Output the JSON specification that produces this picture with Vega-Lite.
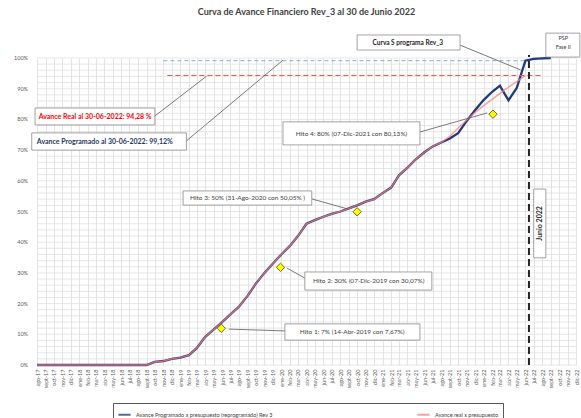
{
 "$schema": "https://vega.github.io/schema/vega-lite/v6.json",
 "width": 539,
 "height": 307,
 "autosize": {"type": "none"},
 "padding": {"left": 37, "top": 58, "right": 5, "bottom": 53},
 "background": "white",
 "title": {"text": "Curva de Avance Financiero Rev_3 al 30 de Junio 2022", "fontSize": 9, "font": "Lato", "fontWeight": "bold", "color": "#404040", "offset": 16, "anchor": "middle", "frame": "group"},
 "data": {"values": [
   {"d":"2017-08-01","p":0,"r":0},{"d":"2017-09-01","p":0,"r":0},{"d":"2017-10-01","p":0,"r":0},{"d":"2017-11-01","p":0,"r":0},{"d":"2017-12-01","p":0,"r":0},
   {"d":"2018-01-01","p":0,"r":0},{"d":"2018-02-01","p":0,"r":0},{"d":"2018-03-01","p":0,"r":0},{"d":"2018-04-01","p":0,"r":0},{"d":"2018-05-01","p":0,"r":0},
   {"d":"2018-06-01","p":0,"r":0},{"d":"2018-07-01","p":0,"r":0},{"d":"2018-08-01","p":0,"r":0},{"d":"2018-09-01","p":0,"r":0},{"d":"2018-10-01","p":1.0,"r":1.0},
   {"d":"2018-11-01","p":1.3,"r":1.3},{"d":"2018-12-01","p":2.0,"r":2.0},{"d":"2019-01-01","p":2.4,"r":2.4},{"d":"2019-02-01","p":3.2,"r":3.2},{"d":"2019-03-01","p":5.5,"r":5.5},
   {"d":"2019-04-01","p":9.2,"r":9.2},{"d":"2019-05-01","p":11.5,"r":11.5},{"d":"2019-06-01","p":14.0,"r":14.0},{"d":"2019-07-01","p":16.5,"r":16.5},{"d":"2019-08-01","p":19.0,"r":19.0},
   {"d":"2019-09-01","p":22.5,"r":22.5},{"d":"2019-10-01","p":26.5,"r":26.5},{"d":"2019-11-01","p":30.0,"r":30.0},{"d":"2019-12-01","p":33.0,"r":33.0},{"d":"2020-01-01","p":36.0,"r":36.0},
   {"d":"2020-02-01","p":38.8,"r":38.8},{"d":"2020-03-01","p":42.0,"r":42.0},{"d":"2020-04-01","p":46.0,"r":46.0},{"d":"2020-05-01","p":47.2,"r":47.2},{"d":"2020-06-01","p":48.3,"r":48.3},
   {"d":"2020-07-01","p":49.2,"r":49.2},{"d":"2020-08-01","p":50.0,"r":50.0},{"d":"2020-09-01","p":51.0,"r":51.0},{"d":"2020-10-01","p":52.0,"r":52.0},{"d":"2020-11-01","p":53.2,"r":53.2},
   {"d":"2020-12-01","p":54.0,"r":54.0},{"d":"2021-01-01","p":56.0,"r":56.0},{"d":"2021-02-01","p":57.8,"r":57.8},{"d":"2021-03-01","p":61.8,"r":61.8},{"d":"2021-04-01","p":64.3,"r":64.3},
   {"d":"2021-05-01","p":67.0,"r":67.0},{"d":"2021-06-01","p":69.3,"r":69.3},{"d":"2021-07-01","p":71.2,"r":71.2},{"d":"2021-08-01","p":72.5,"r":72.5},{"d":"2021-09-01","p":73.8,"r":74.5},
   {"d":"2021-10-01","p":75.5,"r":77.2},{"d":"2021-11-01","p":79.5,"r":79.8},{"d":"2021-12-01","p":83.0,"r":82.2},{"d":"2022-01-01","p":86.3,"r":84.5},{"d":"2022-02-01","p":89.0,"r":86.5},
   {"d":"2022-03-01","p":91.0,"r":88.5},{"d":"2022-04-01","p":86.2,"r":90.5},{"d":"2022-05-01","p":90.3,"r":92.3},{"d":"2022-06-01","p":99.12,"r":94.28},{"d":"2022-07-01","p":99.7,"r":null},
   {"d":"2022-08-01","p":99.9,"r":null},{"d":"2022-09-01","p":100.0,"r":null}
  ], "format": {"parse": {"d": "date:'%Y-%m-%d'"}}},
 "layer": [
  {
   "data": {"values": [{"g":0},{"g":2},{"g":4},{"g":6},{"g":8},{"g":10},{"g":12},{"g":14},{"g":16},{"g":18},{"g":20},{"g":22},{"g":24},{"g":26},{"g":28},{"g":30},{"g":32},{"g":34},{"g":36},{"g":38},{"g":40},{"g":42},{"g":44},{"g":46},{"g":48},{"g":50},{"g":52},{"g":54},{"g":56},{"g":58},{"g":60},{"g":62},{"g":64},{"g":66},{"g":68},{"g":70},{"g":72},{"g":74},{"g":76},{"g":78},{"g":80},{"g":82},{"g":84},{"g":86},{"g":88},{"g":90},{"g":92},{"g":94},{"g":96},{"g":98},{"g":100}]},
   "mark": {"type": "rule", "stroke": "#dcdcdc", "strokeWidth": 0.7},
   "encoding": {
    "y": {"field": "g", "type": "quantitative", "title": null,
     "scale": {"domain": [0, 100], "nice": false},
     "axis": {"title": null, "labels": false, "grid": false, "ticks": false, "domain": false}}
   }
  },
  {
   "data": {"values": [{"yd": "2017-08-01", "yv": 0, "yt": "0%"}, {"yd": "2017-08-01", "yv": 10, "yt": "10%"}, {"yd": "2017-08-01", "yv": 20, "yt": "20%"}, {"yd": "2017-08-01", "yv": 30, "yt": "30%"}, {"yd": "2017-08-01", "yv": 40, "yt": "40%"}, {"yd": "2017-08-01", "yv": 50, "yt": "50%"}, {"yd": "2017-08-01", "yv": 60, "yt": "60%"}, {"yd": "2017-08-01", "yv": 70, "yt": "70%"}, {"yd": "2017-08-01", "yv": 80, "yt": "80%"}, {"yd": "2017-08-01", "yv": 90, "yt": "90%"}, {"yd": "2017-08-01", "yv": 100, "yt": "100%"}], "format": {"parse": {"yd": "date:'%Y-%m-%d'"}}},
   "mark": {"type": "text", "fontSize": 5.5, "font": "Lato", "color": "#595959", "align": "right", "baseline": "middle", "dx": -9},
   "encoding": {"x": {"field": "yd", "type": "temporal", "title": null}, "y": {"field": "yv", "type": "quantitative", "title": null}, "text": {"field": "yt"}}
  },
  {
   "mark": {"type": "line", "strokeWidth": 2.3},
   "encoding": {
    "x": {"field": "d", "type": "temporal", "title": null,
     "scale": {"domain": [{"year": 2017, "month": 8, "date": 1}, {"year": 2022, "month": 12, "date": 1}], "nice": false},
     "axis": {"title": null, "tickCount": {"interval": "month", "step": 1}, "labelExpr": "(month(datum.value)==0?'ene':month(datum.value)==1?'feb':month(datum.value)==2?'mar':month(datum.value)==3?'abr':month(datum.value)==4?'may':month(datum.value)==5?'jun':month(datum.value)==6?'jul':month(datum.value)==7?'ago':month(datum.value)==8?'sept':month(datum.value)==9?'oct':month(datum.value)==10?'nov':'dic') + '-' + timeFormat(datum.value, '%y')", "labelAngle": 270, "labelFontSize": 5.5, "labelColor": "#595959", "labelOverlap": false, "labelFlush": false, "ticks": false, "domain": false, "gridColor": "#d9d9d9", "gridWidth": 0.7, "labelPadding": 4}},
    "y": {"field": "p", "type": "quantitative", "title": null},
    "color": {"datum": "Avance Programado x presupuesto (reprogramado) Rev 3",
     "scale": {"domain": ["Avance Programado x presupuesto (reprogramado) Rev 3", "Avance real x presupuesto"], "range": ["#1f3a78", "#ff7f80"]},
     "legend": {"title": null, "orient": "none", "legendX": 76, "legendY": 345, "direction": "horizontal", "columnPadding": 140, "labelFontSize": 5.5, "labelColor": "#404040", "symbolType": "stroke", "symbolSize": 150, "symbolStrokeWidth": 2, "strokeColor": "#595959", "padding": 4, "labelLimit": 300}}
   }
  },
  {
   "mark": {"type": "line", "strokeWidth": 1.5, "opacity": 0.75},
   "encoding": {
    "x": {"field": "d", "type": "temporal", "title": null},
    "y": {"field": "r", "type": "quantitative", "title": null},
    "color": {"datum": "Avance real x presupuesto"}
   }
  },
  {
   "data": {"values": [{"a": "2018-11-01", "b": "2022-06-01", "v": 99.12}], "format": {"parse": {"a": "date:'%Y-%m-%d'", "b": "date:'%Y-%m-%d'"}}},
   "mark": {"type": "rule", "stroke": "#7fb0e0", "strokeWidth": 1, "strokeDash": [4, 3]},
   "encoding": {"x": {"field": "a", "type": "temporal", "title": null}, "x2": {"field": "b"}, "y": {"field": "v", "type": "quantitative", "title": null}}
  },
  {
   "data": {"values": [{"a": "2018-11-15", "b": "2022-08-01", "w": 94.28}], "format": {"parse": {"a": "date:'%Y-%m-%d'", "b": "date:'%Y-%m-%d'"}}},
   "mark": {"type": "rule", "stroke": "#ff5050", "strokeWidth": 1.1, "strokeDash": [5, 3]},
   "encoding": {"x": {"field": "a", "type": "temporal", "title": null}, "x2": {"field": "b"}, "y": {"field": "w", "type": "quantitative", "title": null}}
  },
  {
   "data": {"values": [{"a": "2022-06-14", "ya": 0, "yb": 101}], "format": {"parse": {"a": "date:'%Y-%m-%d'"}}},
   "mark": {"type": "rule", "stroke": "#262626", "strokeWidth": 2, "strokeDash": [7, 4]},
   "encoding": {"x": {"field": "a", "type": "temporal", "title": null}, "y": {"field": "ya", "type": "quantitative", "title": null}, "y2": {"field": "yb"}}
  },
  {
   "data": {"values": [
     {"a":"2018-10-01","ya":81.1,"b":"2019-04-06","yb":94.1},
     {"a":"2019-01-23","ya":73.0,"b":"2020-01-07","yb":99.3},
     {"a":"2021-10-08","ya":104.2,"b":"2022-05-15","yb":96.1},
     {"a":"2020-04-20","ya":54.1,"b":"2020-08-29","yb":50.8},
     {"a":"2020-03-26","ya":28.3,"b":"2020-01-21","yb":31.6},
     {"a":"2020-01-14","ya":11.1,"b":"2019-06-25","yb":11.7},
     {"a":"2021-05-16","ya":75.9,"b":"2022-01-14","yb":82.1}
    ], "format": {"parse": {"a": "date:'%Y-%m-%d'", "b": "date:'%Y-%m-%d'"}}},
   "mark": {"type": "rule", "stroke": "#595959", "strokeWidth": 0.8},
   "encoding": {"x": {"field": "a", "type": "temporal", "title": null}, "x2": {"field": "b"}, "y": {"field": "ya", "type": "quantitative", "title": null}, "y2": {"field": "yb"}}
  },
  {
   "data": {"values": [
     {"a":"2017-07-25","b":"2018-10-01","ya":78.2,"yb":83.7},
     {"a":"2017-07-13","b":"2019-01-23","ya":70.0,"yb":75.6},
     {"a":"2020-10-01","b":"2021-10-08","ya":102.6,"yb":107.5},
     {"a":"2022-08-14","b":"2022-12-15","ya":100.3,"yb":108.1},
     {"a":"2022-07-01","b":"2022-08-14","ya":34.9,"yb":57.3},
     {"a":"2019-01-11","b":"2020-04-20","ya":52.1,"yb":56.7},
     {"a":"2020-03-26","b":"2021-06-28","ya":24.4,"yb":30.3},
     {"a":"2020-01-14","b":"2021-05-16","ya":8.1,"yb":13.4},
     {"a":"2020-01-07","b":"2021-05-16","ya":71.7,"yb":79.2}
    ], "format": {"parse": {"a": "date:'%Y-%m-%d'", "b": "date:'%Y-%m-%d'"}}},
   "mark": {"type": "rect", "fill": "white", "stroke": "#8c8c8c", "strokeWidth": 0.8},
   "encoding": {"x": {"field": "a", "type": "temporal", "title": null}, "x2": {"field": "b"}, "y": {"field": "ya", "type": "quantitative", "title": null}, "y2": {"field": "yb"}}
  },
  {
   "data": {"values": [
     {"d": "2019-09-01", "v": 54.4, "t": "Hito 3: 50% (31-Ago-2020 con 50,05% )"},
     {"d": "2020-11-12", "v": 27.4, "t": "Hito 2: 30% (07-Dic-2019 con 30,07%)"},
     {"d": "2020-09-13", "v": 10.7, "t": "Hito 1: 7% (14-Abr-2019 con 7,67%)"},
     {"d": "2020-09-11", "v": 75.4, "t": "Hito 4: 80% (07-Dic-2021 con 80,13%)"}
    ], "format": {"parse": {"d": "date:'%Y-%m-%d'"}}},
   "mark": {"type": "text", "fontSize": 6.5, "font": "Lato", "color": "#404040", "align": "center", "baseline": "middle"},
   "encoding": {"x": {"field": "d", "type": "temporal", "title": null}, "y": {"field": "v", "type": "quantitative", "title": null}, "text": {"field": "t"}}
  },
  {
   "data": {"values": [{"d": "2018-02-27", "v": 80.9, "t": "Avance Real al 30-06-2022: 94,28 %"}], "format": {"parse": {"d": "date:'%Y-%m-%d'"}}},
   "mark": {"type": "text", "fontSize": 7, "font": "Lato", "fontWeight": "bold", "color": "#ff0000", "align": "center", "baseline": "middle"},
   "encoding": {"x": {"field": "d", "type": "temporal", "title": null}, "y": {"field": "v", "type": "quantitative", "title": null}, "text": {"field": "t"}}
  },
  {
   "data": {"values": [{"d": "2018-04-03", "v": 72.8, "t": "Avance Programado al 30-06-2022: 99,12%"}], "format": {"parse": {"d": "date:'%Y-%m-%d'"}}},
   "mark": {"type": "text", "fontSize": 7, "font": "Lato", "fontWeight": "bold", "color": "#1f3864", "align": "center", "baseline": "middle"},
   "encoding": {"x": {"field": "d", "type": "temporal", "title": null}, "y": {"field": "v", "type": "quantitative", "title": null}, "text": {"field": "t"}}
  },
  {
   "data": {"values": [{"d": "2021-04-02", "v": 105.0, "t": "Curva S programa Rev_3"}], "format": {"parse": {"d": "date:'%Y-%m-%d'"}}},
   "mark": {"type": "text", "fontSize": 6.5, "font": "Lato", "fontWeight": "bold", "color": "#262626", "align": "center", "baseline": "middle"},
   "encoding": {"x": {"field": "d", "type": "temporal", "title": null}, "y": {"field": "v", "type": "quantitative", "title": null}, "text": {"field": "t"}}
  },
  {
   "data": {"values": [{"d": "2022-10-16", "v": 106.6, "t": "PSP"}, {"d": "2022-10-16", "v": 103.6, "t": "Fase II"}], "format": {"parse": {"d": "date:'%Y-%m-%d'"}}},
   "mark": {"type": "text", "fontSize": 5.5, "font": "Lato", "color": "#404040", "align": "center", "baseline": "middle"},
   "encoding": {"x": {"field": "d", "type": "temporal", "title": null}, "y": {"field": "v", "type": "quantitative", "title": null}, "text": {"field": "t"}}
  },
  {
   "data": {"values": [{"d": "2022-07-23", "v": 46.1, "t": "Junio 2022"}], "format": {"parse": {"d": "date:'%Y-%m-%d'"}}},
   "mark": {"type": "text", "fontSize": 7, "font": "Lato", "fontWeight": "bold", "color": "#262626", "align": "center", "baseline": "middle", "angle": 270},
   "encoding": {"x": {"field": "d", "type": "temporal", "title": null}, "y": {"field": "v", "type": "quantitative", "title": null}, "text": {"field": "t"}}
  },
  {
   "data": {"values": [
     {"d": "2019-05-29", "v": 11.95},
     {"d": "2019-12-29", "v": 31.8},
     {"d": "2020-10-01", "v": 49.9},
     {"d": "2022-02-04", "v": 81.7}
    ], "format": {"parse": {"d": "date:'%Y-%m-%d'"}}},
   "mark": {"type": "point", "shape": "diamond", "filled": true, "fill": "#ffff00", "stroke": "#6b6b2f", "strokeWidth": 1, "size": 70, "opacity": 1},
   "encoding": {"x": {"field": "d", "type": "temporal", "title": null}, "y": {"field": "v", "type": "quantitative", "title": null}}
  }
 ],
 "config": {"view": {"stroke": null}, "font": "Lato", "axisY": {"labels": false, "grid": false, "ticks": false, "domain": false}}
}
